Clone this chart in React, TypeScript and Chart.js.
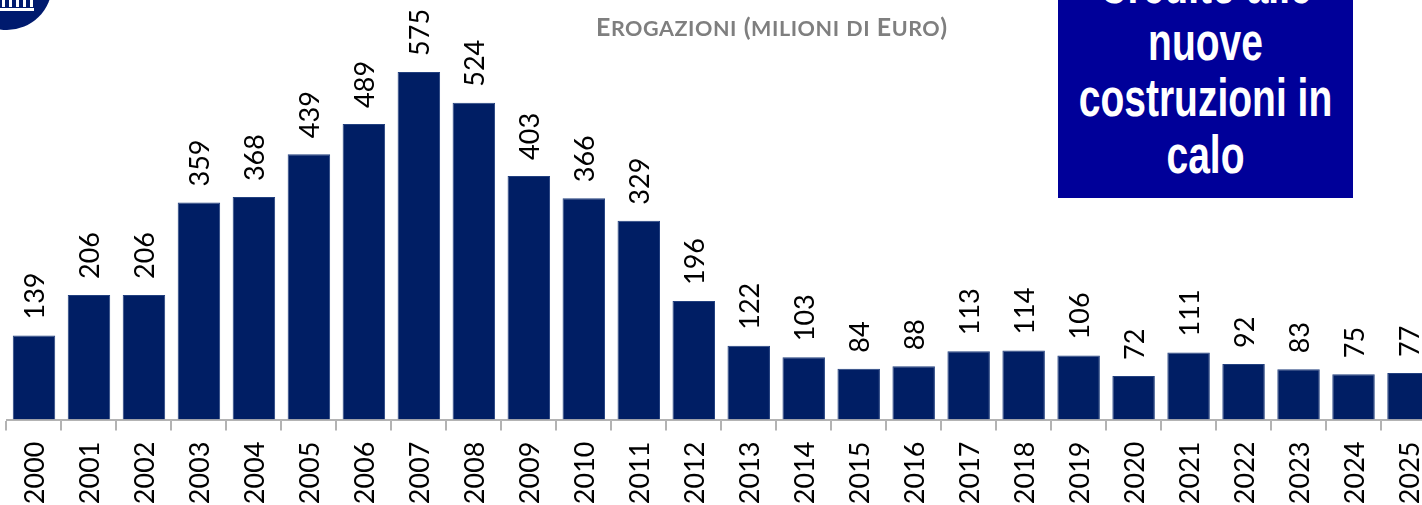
import React, { useEffect, useRef } from "react";
import { Chart, registerables, Plugin } from "chart.js";

Chart.register(...registerables);

const years = ["2000","2001","2002","2003","2004","2005","2006","2007","2008","2009","2010","2011","2012","2013","2014","2015","2016","2017","2018","2019","2020","2021","2022","2023","2024","2025"];
const disbursements = [139,206,206,359,368,439,489,575,524,403,366,329,196,122,103,84,88,113,114,106,72,111,92,83,75,77];
const chartTitle = "Erogazioni (milioni di Euro)";
const calloutLines = ["Credito alle", "nuove", "costruzioni in", "calo"];

const NAVY = "#001E64";
const FONT_FAMILY = 'Lato, sans-serif';
const LABEL_FONT = `27px ${FONT_FAMILY}`;

const valueLabels: Plugin<"bar"> = {
  id: "valueLabels",
  afterDatasetsDraw(chart) {
    const { ctx } = chart;
    const meta = chart.getDatasetMeta(0);
    ctx.save();
    ctx.font = LABEL_FONT;
    ctx.fillStyle = "#000";
    ctx.textAlign = "left";
    ctx.textBaseline = "middle";
    meta.data.forEach((bar: any, i: number) => {
      ctx.save();
      ctx.translate(bar.x + 1.5, bar.y - 16);
      ctx.rotate(-Math.PI / 2);
      ctx.fillText(String(disbursements[i]), 0, 0);
      ctx.restore();
    });
    ctx.restore();
  },
};

export default function App() {
  const ref = useRef<HTMLCanvasElement>(null);
  useEffect(() => {
    document.body.style.margin = "0";
    document.body.style.overflow = "hidden";
    const chart = new Chart(ref.current!, {
      type: "bar",
      data: {
        labels: years,
        datasets: [{
          data: disbursements,
          backgroundColor: NAVY,
          borderColor: "#22407f",
          borderWidth: 1,
          categoryPercentage: 1,
          barPercentage: 42.5 / 55,
        }],
      },
      options: {
        animation: false,
        responsive: false,
        layout: { padding: { left: 6.5, right: 0, top: 0, bottom: 0 } },
        plugins: { legend: { display: false }, tooltip: { enabled: false }, title: { display: false } },
        scales: {
          y: { display: false, min: 0, max: 694 },
          x: {
            afterFit(scale: any) {
              scale.height = 85.5;
              scale.paddingLeft = 0;
              scale.paddingRight = 0;
            },
            border: { display: true, color: "#b3b3b3", width: 2 },
            grid: { offset: true, drawOnChartArea: false, drawTicks: true, tickLength: 11, color: "#b3b3b3", lineWidth: 2 },
            ticks: {
              autoSkip: false,
              minRotation: 90,
              maxRotation: 90,
              padding: 11,
              labelOffset: 1.5,
              color: "#000",
              font: { family: FONT_FAMILY, size: 27 },
            },
          },
        },
      },
      plugins: [valueLabels],
    });
    return () => chart.destroy();
  }, []);

  return (
    <div style={{ position: "relative", width: 1422, height: 505, overflow: "hidden", background: "#fff" }}>
      <canvas ref={ref} width={1436} height={505} style={{ position: "absolute", left: 0, top: 0, width: 1436, height: 505 }} />
      <svg width={60} height={34} style={{ position: "absolute", left: 0, top: 0 }}>
        <circle cx={7} cy={-15} r={45} fill="#001a6e" />
        <rect x={0} y={8} width={34} height={3} fill="#fff" />
        {[2, 9, 16, 23, 30].map((x) => <rect key={x} x={x} y={0} width={3} height={7} fill="#fff" />)}
      </svg>
      <div style={{ position: "absolute", left: 596, top: 11, width: 380, whiteSpace: "nowrap", color: "#7f7f7f", font: 'bold 25px Lato, sans-serif' }}>
        {chartTitle.split("").map((ch, i) =>
          ch >= "a" && ch <= "z"
            ? <span key={i} style={{ fontSize: 21.5, textTransform: "uppercase", letterSpacing: 0.55 }}>{ch}</span>
            : <span key={i} style={{ letterSpacing: 0.55 }}>{ch}</span>
        )}
      </div>
      <div style={{ position: "absolute", left: 1058, top: -60, width: 295, height: 258, background: "#000099" }}>
        {calloutLines.map((line, i) => (
          <div key={line} style={{ position: "absolute", left: 0, width: 295, top: 17 + i * 56.5, height: 56, textAlign: "center", color: "#fff", font: 'bold 39px/56px "Liberation Sans", Arial, sans-serif', transform: "scaleY(1.38)" }}>{line}</div>
        ))}
      </div>
    </div>
  );
}
